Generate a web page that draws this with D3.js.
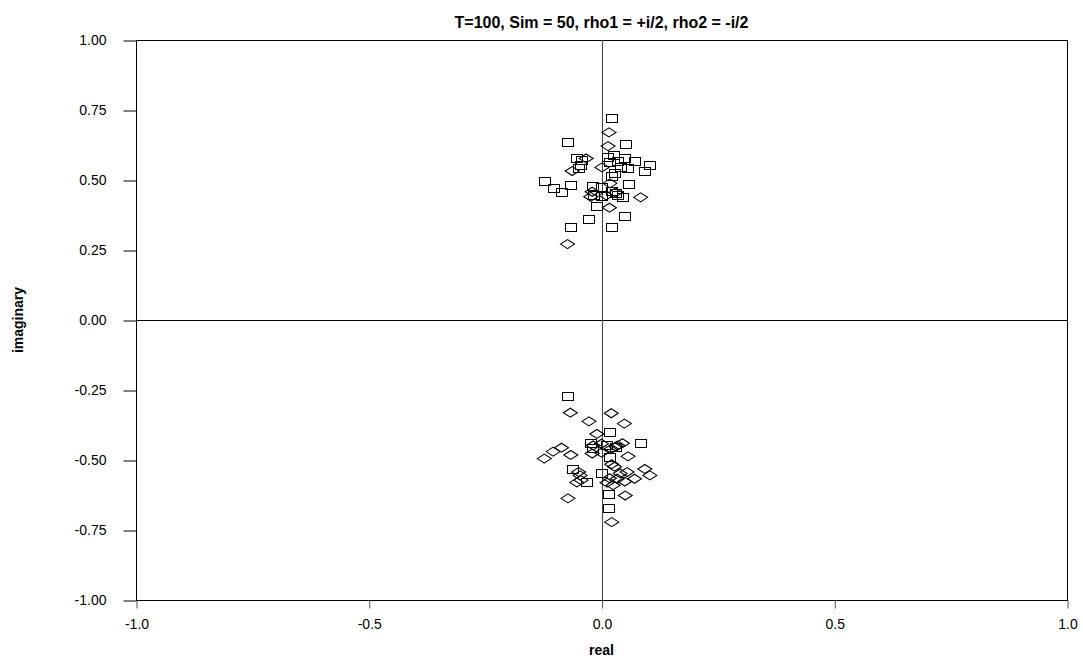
<!DOCTYPE html>
<html>
<head>
<meta charset="utf-8">
<script src="https://cdn.jsdelivr.net/npm/d3@7"></script>
<style>
  html, body { margin: 0; padding: 0; background: #fff; }
  svg { display: block; font-family: Arial, "Liberation Sans", sans-serif; }
</style>
</head>
<body>
<svg id="chart" width="1083" height="664"></svg>
<script>
// Roots of the estimated AR(2) polynomial, one conjugate pair per simulation.
// Root 1 (squares)
const root1Re = [
  0.022, -0.072, 0.051, -0.053, 0.012, 0.025, 0.050, 0.071, 0.104, 0.093,
  -0.044, -0.049, 0.017, 0.034, 0.040, 0.055, 0.028, 0.022, -0.123, -0.104,
  -0.086, -0.066, -0.020, 0.057, 0.000, -0.018, 0.021, 0.031, 0.045, -0.010,
  -0.027, 0.049, -0.067, 0.021, 0.000, 0.035, -0.046,
  0.016, 0.014, -0.033, -0.063, 0.001, 0.018, -0.020, -0.023, 0.084, 0.017,
  -0.073, 0.010, 0.030
];
const root1Im = [
  0.722, 0.637, 0.627, 0.580, 0.581, 0.590, 0.577, 0.567, 0.555, 0.532,
  0.572, 0.543, 0.565, 0.567, 0.548, 0.543, 0.524, 0.515, 0.495, 0.470,
  0.456, 0.482, 0.477, 0.487, 0.474, 0.448, 0.460, 0.452, 0.440, 0.407,
  0.362, 0.370, 0.331, 0.333, 0.442, 0.448, 0.555,
  -0.670, -0.621, -0.577, -0.532, -0.545, -0.488, -0.458, -0.440, -0.438, -0.401,
  -0.271, -0.445, -0.455
];
// Root 2 (diamonds)
const root2Re = [
  0.016, 0.014, -0.033, -0.063, 0.001, 0.018, -0.020, -0.023, 0.084, 0.017,
  -0.073, 0.010, 0.030,
  0.022, -0.072, 0.051, -0.053, 0.012, 0.025, 0.050, 0.071, 0.104, 0.093,
  -0.044, -0.049, 0.017, 0.034, 0.040, 0.055, 0.028, 0.022, -0.123, -0.104,
  -0.086, -0.066, -0.020, 0.057, 0.000, -0.018, 0.021, 0.031, 0.045, -0.010,
  -0.027, 0.049, -0.067, 0.021, 0.000, 0.035, -0.046
];
const root2Im = [
  0.670, 0.621, 0.577, 0.532, 0.545, 0.488, 0.458, 0.440, 0.438, 0.401,
  0.271, 0.445, 0.455,
  -0.722, -0.637, -0.627, -0.580, -0.581, -0.590, -0.577, -0.567, -0.555, -0.532,
  -0.572, -0.543, -0.565, -0.567, -0.548, -0.543, -0.524, -0.515, -0.495, -0.470,
  -0.456, -0.482, -0.477, -0.487, -0.474, -0.448, -0.460, -0.452, -0.440, -0.407,
  -0.362, -0.370, -0.331, -0.333, -0.442, -0.448, -0.555
];
const xTicks = [-1.0, -0.5, 0.0, 0.5, 1.0];
const yTicks = [1.00, 0.75, 0.50, 0.25, 0.00, -0.25, -0.50, -0.75, -1.00];
const titleText = "T=100, Sim = 50, rho1 = +i/2, rho2 = -i/2";
const xTitle = "real";
const yTitle = "imaginary";

const svg = d3.select("#chart");
const plotL = 136, plotR = 1067, plotT = 40, plotB = 600;

const x = d3.scaleLinear().domain([-1, 1]).range([plotL, plotR]);
const y = d3.scaleLinear().domain([-1, 1]).range([plotB, plotT]);

// Plain ASCII hyphen for negative tick labels
const fmt = digits => v => v.toFixed(digits);

// Plot frame
svg.append("rect")
  .attr("x", plotL + 0.5).attr("y", plotT + 0.5)
  .attr("width", plotR - plotL).attr("height", plotB - plotT)
  .attr("fill", "none").attr("stroke", "#000").attr("stroke-width", 1);

// Zero reference lines
svg.append("line")
  .attr("x1", plotL).attr("x2", plotR)
  .attr("y1", Math.round(y(0)) + 0.5).attr("y2", Math.round(y(0)) + 0.5)
  .attr("stroke", "#000");
svg.append("line")
  .attr("x1", Math.round(x(0)) + 0.5).attr("x2", Math.round(x(0)) + 0.5)
  .attr("y1", plotT).attr("y2", plotB)
  .attr("stroke", "#444");

// Axes
const yAxis = d3.axisLeft(y).tickValues(yTicks).tickFormat(fmt(2))
  .tickSize(13).tickPadding(17);
svg.append("g").attr("transform", `translate(${plotL + 0.5},0.5)`).call(yAxis)
  .call(g => g.select(".domain").remove())
  .call(g => g.selectAll("text").attr("font-size", 14).attr("fill", "#000")
    .attr("font-family", "Arial, 'Liberation Sans', sans-serif"));

const xAxis = d3.axisBottom(x).tickValues(xTicks).tickFormat(fmt(1))
  .tickSize(8).tickPadding(11);
svg.append("g").attr("transform", `translate(0.5,${plotB + 0.5})`).call(xAxis)
  .call(g => g.select(".domain").remove())
  .call(g => g.selectAll("line").attr("stroke", "#555"))
  .call(g => g.selectAll("text").attr("font-size", 14).attr("fill", "#000")
    .attr("font-family", "Arial, 'Liberation Sans', sans-serif"));

// Titles
svg.append("text").attr("x", (plotL + plotR) / 2).attr("y", 28)
  .attr("text-anchor", "middle").attr("font-weight", "bold").attr("font-size", 16)
  .text(titleText);
svg.append("text").attr("x", (plotL + plotR) / 2).attr("y", 655)
  .attr("text-anchor", "middle").attr("font-weight", "bold").attr("font-size", 14)
  .text(xTitle);
svg.append("text").attr("transform", `translate(23,${(plotT + plotB) / 2}) rotate(-90)`)
  .attr("text-anchor", "middle").attr("font-weight", "bold").attr("font-size", 14)
  .text(yTitle);

// Markers
const sqW = 11, sqH = 8, dW = 14, dH = 9;
const root1 = root1Re.map((r, i) => ({ re: r, im: root1Im[i] }));
const root2 = root2Re.map((r, i) => ({ re: r, im: root2Im[i] }));

svg.append("g").selectAll("rect").data(root1).join("rect")
  .attr("x", d => Math.round(x(d.re) - sqW / 2) + 0.5)
  .attr("y", d => Math.round(y(d.im) - sqH / 2) + 0.5)
  .attr("width", sqW).attr("height", sqH)
  .attr("fill", "none").attr("stroke", "#000").attr("stroke-width", 1);

svg.append("g").selectAll("path").data(root2).join("path")
  .attr("d", d => {
    const cx = x(d.re), cy = y(d.im);
    return `M${cx - dW / 2},${cy}L${cx},${cy - dH / 2}L${cx + dW / 2},${cy}L${cx},${cy + dH / 2}Z`;
  })
  .attr("fill", "none").attr("stroke", "#000").attr("stroke-width", 1.1);
</script>
</body>
</html>
